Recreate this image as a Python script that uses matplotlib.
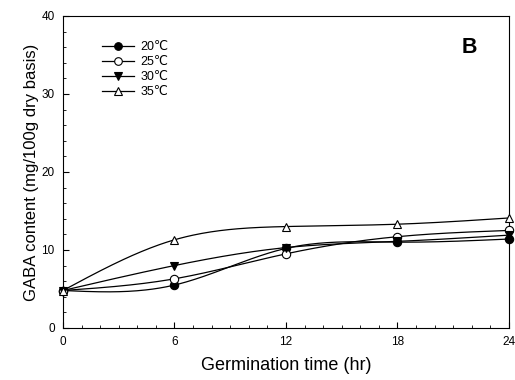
import numpy as np
import matplotlib
matplotlib.use("Agg")
import matplotlib.pyplot as plt
from matplotlib.ticker import MultipleLocator
from matplotlib.lines import Line2D

plt.rcParams['font.family'] = ['Liberation Sans', 'DejaVu Sans']

hours = [0, 6, 12, 18, 24]
gaba_20 = [4.8, 5.5, 10.2, 11.0, 11.4]
gaba_25 = [4.8, 6.3, 9.5, 11.7, 12.5]
gaba_30 = [4.8, 8.0, 10.3, 11.1, 11.9]
gaba_35 = [4.8, 11.3, 13.0, 13.3, 14.1]
labels = ['20\u2103', '25\u2103', '30\u2103', '35\u2103']


def spline(x, y, n=200):
    # natural cubic spline through the points, only used for the drawn curve
    x = np.asarray(x, float)
    y = np.asarray(y, float)
    k = len(x)
    h = np.diff(x)
    A = np.zeros((k, k))
    b = np.zeros(k)
    A[0, 0] = A[-1, -1] = 1
    for i in range(1, k - 1):
        A[i, i - 1] = h[i - 1]
        A[i, i] = 2 * (h[i - 1] + h[i])
        A[i, i + 1] = h[i]
        b[i] = 3 * ((y[i + 1] - y[i]) / h[i] - (y[i] - y[i - 1]) / h[i - 1])
    c = np.linalg.solve(A, b)
    xs = np.linspace(x[0], x[-1], n)
    ys = np.empty_like(xs)
    for j, xv in enumerate(xs):
        i = min(np.searchsorted(x, xv, side='right') - 1, k - 2)
        d = xv - x[i]
        bi = (y[i + 1] - y[i]) / h[i] - h[i] * (2 * c[i] + c[i + 1]) / 3
        di = (c[i + 1] - c[i]) / (3 * h[i])
        ys[j] = y[i] + bi * d + c[i] * d ** 2 + di * d ** 3
    return xs, ys


fig = plt.figure(figsize=(5.15, 3.8), dpi=100)
ax = fig.add_axes([0.1223, 0.137, 0.866, 0.821])

series = [gaba_20, gaba_25, gaba_30, gaba_35]
markers = ['o', 'o', 'v', '^']
faces = ['black', 'white', 'black', 'white']
for vals, m, fc in zip(series, markers, faces):
    xs, ys = spline(hours, vals)
    ax.plot(xs, ys, color='black', lw=0.9, zorder=2)
    ax.plot(hours, vals, linestyle='None', marker=m, markersize=6,
            markerfacecolor=fc, markeredgecolor='black',
            markeredgewidth=0.8, zorder=3, clip_on=False)

leg_handles = [Line2D([], [], color='black', lw=0.9, marker=m, markersize=5.5,
                      markerfacecolor=fc, markeredgecolor='black',
                      markeredgewidth=0.8)
               for m, fc in zip(markers, faces)]
ax.legend(leg_handles, labels, loc='upper left', bbox_to_anchor=(0.087, 0.92),
          frameon=False, fontsize=9, handlelength=2.6, handletextpad=0.5,
          labelspacing=0.25, borderaxespad=0, borderpad=0)

ax.set_xlim(0, 24)
ax.set_ylim(0, 40)
ax.xaxis.set_major_locator(MultipleLocator(6))
ax.xaxis.set_minor_locator(MultipleLocator(1))
ax.yaxis.set_major_locator(MultipleLocator(10))
ax.yaxis.set_minor_locator(MultipleLocator(2))
ax.tick_params(which='both', direction='in', labelsize=8.5, pad=6)
ax.tick_params(which='major', length=4)
ax.tick_params(which='minor', length=2.5)
for s in ax.spines.values():
    s.set_linewidth(0.8)

ax.set_xlabel('Germination time (hr)', fontsize=13, labelpad=6)
ax.set_ylabel('GABA content (mg/100g dry basis)', fontsize=12, labelpad=2)
ax.text(0.912, 0.90, 'B', transform=ax.transAxes, fontsize=15.5,
        fontweight='bold', ha='center', va='center')

fig.savefig('out.png', dpi=100)
